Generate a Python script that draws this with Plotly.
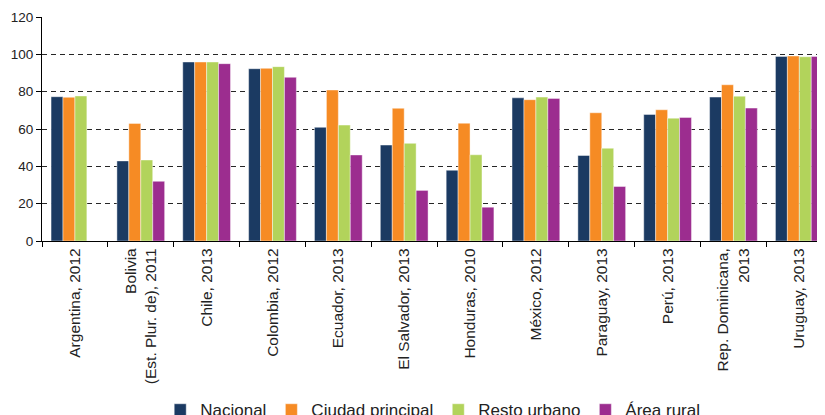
import plotly.graph_objects as go

categories = [
    "Argentina, 2012",
    "Bolivia<br>(Est. Plur. de), 2011",
    "Chile, 2013",
    "Colombia, 2012",
    "Ecuador, 2013",
    "El Salvador, 2013",
    "Honduras, 2010",
    "México, 2012",
    "Paraguay, 2013",
    "Perú, 2013",
    "Rep. Dominicana,<br>2013",
    "Uruguay, 2013",
]

nacional = [77.3, 42.9, 95.9, 92.3, 60.9, 51.4, 37.9, 76.7, 45.8, 67.8, 77.1, 98.9]
ciudad_principal = [77.0, 63.0, 95.9, 92.5, 80.9, 71.1, 63.1, 75.7, 68.7, 70.3, 83.7, 99.1]
resto_urbano = [77.7, 43.4, 95.9, 93.4, 62.1, 52.3, 46.2, 77.1, 49.7, 65.8, 77.6, 98.7]
area_rural = [None, 32.0, 95.0, 87.7, 46.1, 27.1, 18.1, 76.4, 29.2, 66.2, 71.2, 98.9]

series_names = ["Nacional", "Ciudad principal", "Resto urbano", "Área rural"]
series_values = [nacional, ciudad_principal, resto_urbano, area_rural]
series_colors = ["#1B3A62", "#F68B24", "#B2D35B", "#9C2D8F"]

y_ticks = [0, 20, 40, 60, 80, 100, 120]

fig = go.Figure()
for name, vals, col in zip(series_names, series_values, series_colors):
    fig.add_trace(go.Bar(
        x=categories, y=vals, name=name,
        marker=dict(color=col, line=dict(color="rgba(255,255,255,0.55)", width=0.8)),
    ))

fig.update_layout(
    width=817, height=407,
    margin=dict(l=34, r=0, t=9, b=174, autoexpand=False),
    paper_bgcolor="white", plot_bgcolor="white",
    barmode="group", bargap=0.275, bargroupgap=0,
    font=dict(family="Liberation Sans, Arial, sans-serif", color="#222222", size=13),
    showlegend=True,
    legend=dict(
        orientation="h", x=0.499, xanchor="center", y=-0.675, yanchor="top",
        font=dict(size=17, color="#222222"), bgcolor="rgba(0,0,0,0)",
        traceorder="normal", itemclick=False,
    ),
    xaxis=dict(
        type="category", range=[-0.5, 11.39],
        showline=True, linecolor="#000000", linewidth=1.2,
        ticks="outside", tickson="boundaries", ticklen=5, tickcolor="#000000",
        tickangle=-90, tickfont=dict(size=15.5, color="#222222"),
        showgrid=False, zeroline=False,
    ),
    yaxis=dict(
        range=[0, 120], tickvals=y_ticks,
        showline=True, linecolor="#000000", linewidth=1.2,
        ticks="outside", ticklen=5, tickcolor="#000000",
        tickfont=dict(size=13.5, color="#222222"),
        showgrid=True, gridcolor="#262626", gridwidth=1, griddash="5px,4px",
        zeroline=False,
    ),
)

fig.write_html("out.html")
